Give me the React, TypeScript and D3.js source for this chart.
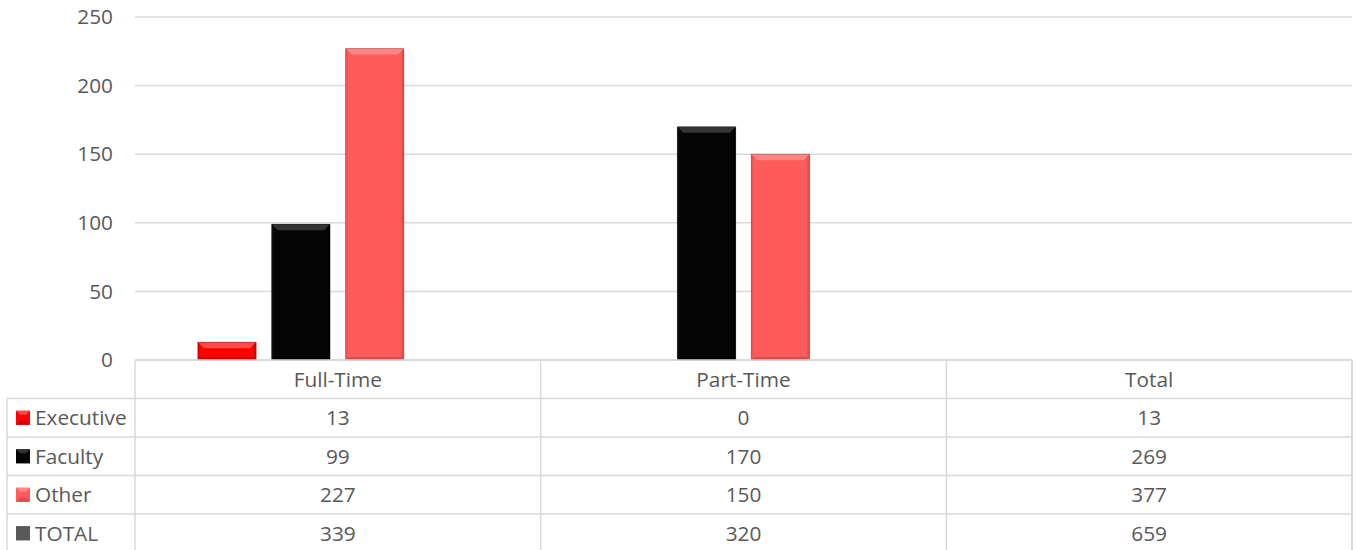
import React from "react";
import * as d3 from "d3";

const categories = ["Full-Time", "Part-Time", "Total"];
const seriesNames = ["Executive", "Faculty", "Other", "TOTAL"];
const executive = [13, 0, 13];
const faculty = [99, 170, 269];
const other = [227, 150, 377];
const total = [339, 320, 659];
const yTicks = [0, 50, 100, 150, 200, 250];
// categories whose bars are drawn in the plot (Total column and TOTAL series have no fill)
const plottedCategories = ["Full-Time", "Part-Time"];
const plottedSeries = ["Executive", "Faculty", "Other"];

const W = 1356;
const H = 550;
const plotLeft = 135;
const plotRight = 1352;
const plotTop = 17;
const plotBottom = 360;
const rowH = 38.5;
const legendLeft = 7;
const textColor = "#595959";
const gridColor = "#d9d9d9";
const font = "'Open Sans', sans-serif";
const fontSize = 20.8;

const colors: Record<string, { base: string; light: string; dark: string; side: string }> = {
  Executive: { base: "#ff0000", light: "#ff4a4a", dark: "#d00000", side: "#e80000" },
  Faculty: { base: "#050505", light: "#333333", dark: "#000000", side: "#0d0d0d" },
  Other: { base: "#ff5b5b", light: "#ff8585", dark: "#dd4a4a", side: "#f25454" },
  TOTAL: { base: "#595959", light: "#595959", dark: "#595959", side: "#595959" },
};

const seriesValues: Record<string, number[]> = {
  Executive: executive,
  Faculty: faculty,
  Other: other,
  TOTAL: total,
};

function BevelBar({ x, y, w, h, c }: { x: number; y: number; w: number; h: number; c: typeof colors.Executive }) {
  if (h <= 0) return null;
  const b = Math.min(6, h / 2.5, w / 2);
  const bb = Math.min(3, h / 4);
  const pts = (arr: number[][]) => arr.map((p) => p.join(",")).join(" ");
  return (
    <g>
      <rect x={x} y={y} width={w} height={h} fill={c.base} />
      <polygon points={pts([[x, y], [x + w, y], [x + w - b, y + b], [x + b, y + b]])} fill={c.light} />
      <polygon points={pts([[x, y + h], [x + w, y + h], [x + w - bb, y + h - bb], [x + bb, y + h - bb]])} fill={c.dark} />
      <polygon points={pts([[x, y], [x + 2, y + 2], [x + 2, y + h - 2], [x, y + h]])} fill={c.side} />
      <polygon points={pts([[x + w, y], [x + w - 2.5, y + 2.5], [x + w - 2.5, y + h - 2.5], [x + w, y + h]])} fill={c.dark} opacity={0.7} />
      <rect x={x} y={y} width={w} height={h} fill="none" stroke="rgba(0,0,0,0.22)" strokeWidth={1} />
    </g>
  );
}

function LegendKey({ x, y, c }: { x: number; y: number; c: typeof colors.Executive }) {
  const s = 14;
  const b = 4;
  const pts = (arr: number[][]) => arr.map((p) => p.join(",")).join(" ");
  return (
    <g>
      <rect x={x} y={y} width={s} height={s} fill={c.base} />
      <polygon points={pts([[x, y], [x + s, y], [x + s - b, y + b], [x + b, y + b]])} fill={c.light} />
      <polygon points={pts([[x, y + s], [x + s, y + s], [x + s - b, y + s - b], [x + b, y + s - b]])} fill={c.dark} />
    </g>
  );
}

export default function App() {
  const x = d3.scaleBand<string>().domain(categories).range([plotLeft, plotRight]).padding(0);
  const y = d3.scaleLinear().domain([0, 250]).range([plotBottom, plotTop]);
  const cw = x.bandwidth();
  const inner = d3
    .scaleBand<string>()
    .domain(seriesNames)
    .range([0, cw])
    .paddingInner(0.21)
    .paddingOuter(0.85);

  const rowsTop = plotBottom + rowH;
  const tableBottom = plotBottom + rowH * 5;

  return (
    <svg width={W} height={H} style={{ position: "absolute", left: 0, top: 0, background: "#fff" }} fontFamily={font}>
      {/* gridlines */}
      {yTicks.map((t) => (
        <line key={t} x1={plotLeft} x2={plotRight} y1={y(t)} y2={y(t)} stroke={gridColor} strokeWidth={1.5} />
      ))}
      {/* y labels */}
      {yTicks.map((t) => (
        <text key={"l" + t} x={113} y={y(t)} dy="0.35em" textAnchor="end" fontSize={fontSize} fill={textColor}>
          {t}
        </text>
      ))}
      {/* bars */}
      {plottedCategories.map((cat) => {
        const ci = categories.indexOf(cat);
        return plottedSeries.map((s) => {
          const v = seriesValues[s][ci];
          const bx = (x(cat) as number) + (inner(s) as number);
          return (
            <BevelBar key={cat + s} x={bx} y={y(v)} w={inner.bandwidth()} h={plotBottom - y(v)} c={colors[s]} />
          );
        });
      })}
      {/* table horizontal lines */}
      {[0, 1, 2, 3, 4, 5].map((i) => (
        <line
          key={"h" + i}
          x1={i === 0 ? plotLeft : legendLeft}
          x2={plotRight}
          y1={plotBottom + rowH * i}
          y2={plotBottom + rowH * i}
          stroke={gridColor}
          strokeWidth={1.5}
        />
      ))}
      {/* table vertical lines */}
      {categories.map((c) => (
        <line key={"v" + c} x1={x(c)} x2={x(c)} y1={plotBottom} y2={tableBottom} stroke={gridColor} strokeWidth={1.5} />
      ))}
      <line x1={plotRight} x2={plotRight} y1={plotBottom} y2={tableBottom} stroke={gridColor} strokeWidth={2} />
      <line x1={legendLeft} x2={legendLeft} y1={rowsTop} y2={tableBottom} stroke={gridColor} strokeWidth={1.5} />
      {/* header */}
      {categories.map((c) => (
        <text
          key={"hd" + c}
          x={(x(c) as number) + cw / 2}
          y={plotBottom + rowH / 2}
          dy="0.35em"
          textAnchor="middle"
          fontSize={fontSize}
          fill={textColor}
        >
          {c}
        </text>
      ))}
      {/* rows */}
      {seriesNames.map((s, ri) => {
        const cy = rowsTop + rowH * ri + rowH / 2;
        return (
          <g key={"r" + s}>
            <LegendKey x={16} y={cy - 7} c={colors[s]} />
            <text x={35} y={cy} dy="0.35em" fontSize={fontSize} fill={textColor}>
              {s}
            </text>
            {categories.map((c, ci) => (
              <text
                key={c}
                x={(x(c) as number) + cw / 2}
                y={cy}
                dy="0.35em"
                textAnchor="middle"
                fontSize={fontSize}
                fill={textColor}
              >
                {seriesValues[s][ci]}
              </text>
            ))}
          </g>
        );
      })}
    </svg>
  );
}
